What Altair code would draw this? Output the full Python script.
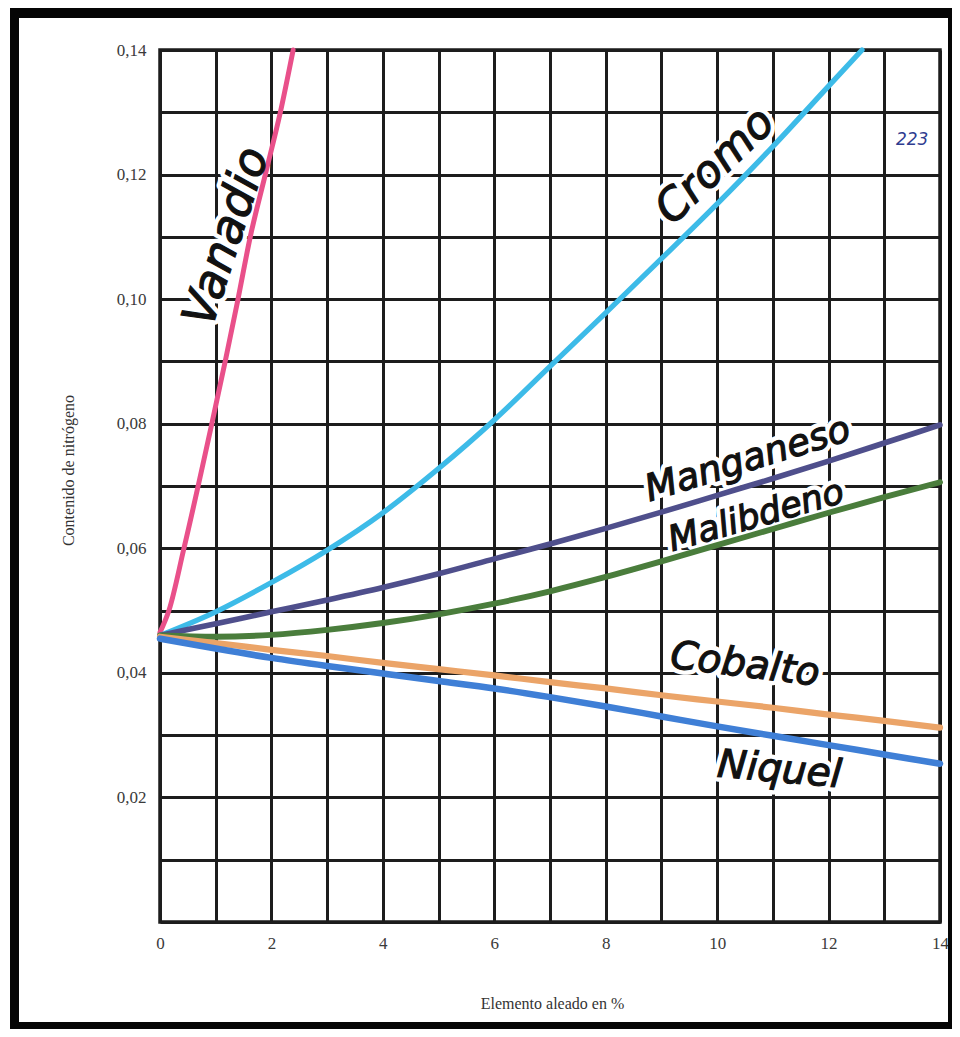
import altair as alt
import pandas as pd

# ---------------- data ----------------
series_names = ["Vanadio", "Cromo", "Manganeso", "Molibdeno", "Cobalto", "Niquel"]
series_colors = ["#e9508a", "#3dbbe8", "#4f4f8c", "#4a7d3c", "#eba468", "#3f7fd6"]
series_widths = [5, 6.5, 4.5, 4, 4.5, 5.5]

vanadio_x = [0, 0.16, 0.43, 0.93, 1.17, 1.40, 1.62, 1.89, 2.16, 2.39]
vanadio_y = [0.0465, 0.050, 0.060, 0.080, 0.090, 0.100, 0.110, 0.120, 0.130, 0.140]

cromo_x = [0, 1, 2, 3, 4, 5, 6, 7, 8, 9, 10, 11, 12, 12.6]
cromo_y = [0.046, 0.0498, 0.0545, 0.0597, 0.0657, 0.0728, 0.0806, 0.0892,
           0.0978, 0.1065, 0.1153, 0.1245, 0.1342, 0.140]

pct_x = [0, 1, 2, 3, 4, 5, 6, 7, 8, 9, 10, 11, 12, 13, 14]
manganeso_y = [0.046, 0.0479, 0.0498, 0.0517, 0.0537, 0.0559, 0.0583, 0.0607,
               0.0632, 0.0658, 0.0685, 0.0712, 0.0740, 0.0769, 0.0798]
molibdeno_y = [0.046, 0.0458, 0.0461, 0.0469, 0.0480, 0.0494, 0.0511, 0.0531,
               0.0554, 0.0579, 0.0605, 0.0631, 0.0657, 0.0682, 0.0706]
cobalto_y = [0.0458, 0.0448, 0.0437, 0.0427, 0.0416, 0.0406, 0.0396, 0.0385,
             0.0375, 0.0364, 0.0354, 0.0344, 0.0333, 0.0323, 0.0312]
niquel_y = [0.0455, 0.0439, 0.0424, 0.0411, 0.0399, 0.0387, 0.0375, 0.0361,
            0.0346, 0.0330, 0.0314, 0.0299, 0.0284, 0.0269, 0.0254]

label_text = ["Vanadio", "Cromo", "Manganeso", "Malibdeno", "Cobalto", "Niquel"]
label_x = [1.20, 9.97, 10.55, 10.70, 10.50, 11.12]
label_y = [0.1100, 0.1213, 0.0742, 0.0652, 0.0413, 0.0244]
label_angle = [288, 316, 343, 344, 7, 5]
label_size = [46, 44, 37, 35, 39, 39]

note_text = ["223"]
note_x = [13.5]
note_y = [0.1255]

x_ticks = list(range(15))
y_ticks = [i / 100 for i in range(15)]

# ---------------- tables ----------------
rows = []
for name, xs, ys in [
    ("Vanadio", vanadio_x, vanadio_y),
    ("Cromo", cromo_x, cromo_y),
    ("Manganeso", pct_x, manganeso_y),
    ("Molibdeno", pct_x, molibdeno_y),
    ("Cobalto", pct_x, cobalto_y),
    ("Niquel", pct_x, niquel_y),
]:
    for i, (a, b) in enumerate(zip(xs, ys)):
        rows.append({"serie": name, "x": a, "y": b, "o": i})
lines_df = pd.DataFrame(rows)

labels_df = pd.DataFrame({"t": label_text, "x": label_x, "y": label_y,
                          "a": label_angle, "s": label_size})
note_df = pd.DataFrame({"t": note_text, "x": note_x, "y": note_y})

GRID = "#1d1d1d"
SERIF = "Liberation Serif"
W, H = 780, 872

x_enc = alt.X(
    "x:Q",
    scale=alt.Scale(domain=[0, 14], nice=False, zero=False),
    axis=alt.Axis(
        values=x_ticks,
        labelExpr="datum.value % 2 == 0 ? datum.label : ''",
        grid=True, gridColor=GRID, gridWidth=3, gridOpacity=1,
        ticks=False, domain=False,
        labelFont=SERIF, labelFontSize=17, labelColor="#3a3a3a",
        labelPadding=13, labelFlush=False, labelOverlap=False,
        title="Elemento aleado en %", titleFont=SERIF, titleFontSize=16,
        titleFontWeight="normal", titleColor="#333333",
        titleX=W / 2 + 2, titleY=81, titleBaseline="middle", titleAlign="center",
    ),
)
y_enc = alt.Y(
    "y:Q",
    scale=alt.Scale(domain=[0, 0.14], nice=False, zero=False),
    axis=alt.Axis(
        values=y_ticks,
        labelExpr="datum.value < 0.005 || round(datum.value * 100) % 2 == 1 ? '' : replace(format(datum.value, '.2f'), '.', ',')",
        grid=True, gridColor=GRID, gridWidth=3, gridOpacity=1,
        ticks=False, domain=False,
        labelFont=SERIF, labelFontSize=17, labelColor="#3a3a3a",
        labelPadding=14, labelOverlap=False,
        title="Contenido de nitrógeno", titleFont=SERIF, titleFontSize=16,
        titleFontWeight="normal", titleColor="#333333",
        titleX=-92, titleY=420, titleAngle=270,
        titleBaseline="middle", titleAlign="center",
    ),
)

one = pd.DataFrame({"k": [0]})
frame_color = "#050505"
frame = alt.layer(
    alt.Chart(one).mark_rect(color=frame_color).encode(
        x=alt.value(-150), x2=alt.value(-141), y=alt.value(-42), y2=alt.value(979)),
    alt.Chart(one).mark_rect(color=frame_color).encode(
        x=alt.value(-150), x2=alt.value(792), y=alt.value(-42), y2=alt.value(-32)),
    alt.Chart(one).mark_rect(color=frame_color).encode(
        x=alt.value(788), x2=alt.value(792), y=alt.value(-42), y2=alt.value(979)),
    alt.Chart(one).mark_rect(color=frame_color).encode(
        x=alt.value(-150), x2=alt.value(792), y=alt.value(972), y2=alt.value(979)),
)

halo = alt.Chart(labels_df).mark_text(
    font="DejaVu Sans", fontStyle="italic",
    color="white", stroke="white", strokeWidth=10, strokeJoin="round",
    align="center", baseline="middle",
).encode(
    x=x_enc, y=y_enc, text="t:N",
    angle=alt.Angle("a:Q", scale=None),
    size=alt.Size("s:Q", scale=None, legend=None),
)

lines = alt.Chart(lines_df).mark_line(interpolate="monotone", strokeCap="round").encode(
    x=x_enc, y=y_enc,
    color=alt.Color("serie:N", scale=alt.Scale(domain=series_names, range=series_colors), legend=None),
    strokeWidth=alt.StrokeWidth("serie:N", scale=alt.Scale(domain=series_names, range=series_widths), legend=None),
    order="o:Q",
)

texts = alt.Chart(labels_df).mark_text(
    font="DejaVu Sans", fontStyle="italic",
    color="#111111", stroke="#111111", strokeWidth=1.2,
    align="center", baseline="middle",
).encode(
    x=x_enc, y=y_enc, text="t:N",
    angle=alt.Angle("a:Q", scale=None),
    size=alt.Size("s:Q", scale=None, legend=None),
)

note = alt.Chart(note_df).mark_text(
    font="DejaVu Sans", fontStyle="italic", fontSize=17,
    color="#2f3c8f", align="center", baseline="middle",
).encode(x=x_enc, y=y_enc, text="t:N")

chart = alt.layer(frame, halo, lines, texts, note).properties(
    width=W, height=H,
    padding={"left": 152, "top": 42, "right": 944 - 152 - W, "bottom": 1021 - 42 - H},
    autosize=alt.AutoSizeParams(type="none"),
    background="white",
).configure_view(stroke=GRID, strokeWidth=3.5)

chart.save("out.html", embed_options={"renderer": "svg", "actions": False})
